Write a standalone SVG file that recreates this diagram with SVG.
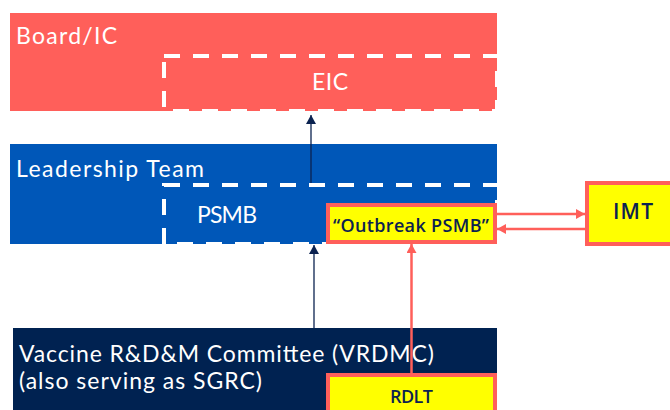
<svg xmlns="http://www.w3.org/2000/svg" width="670" height="410" viewBox="0 0 670 410">
  <defs>
    <style>
      .lbl { font-family: "Lato", "Open Sans", "Liberation Sans", sans-serif; fill: #ffffff; font-size: 23px; }
      .dark { font-family: "Open Sans", "Liberation Sans", sans-serif; fill: #0b2250; font-weight: 600; }
      .dash { fill: none; stroke: #ffffff; stroke-width: 4; stroke-dasharray: 16 13; }
      .ybox { fill: #ffff00; stroke: #ff5f5a; stroke-width: 4; }
      .navyline { stroke: #0b2250; stroke-width: 1.3; fill: none; }
      .redline { stroke: #ff5f5a; stroke-width: 2.5; fill: none; }
    </style>
    <marker id="ahNavy" markerWidth="10" markerHeight="10" refX="9" refY="5" orient="auto" markerUnits="userSpaceOnUse">
      <path d="M0,0 L9,5 L0,10 Z" fill="#0b2250"/>
    </marker>
    <marker id="ahRed" markerWidth="10" markerHeight="10" refX="9" refY="5" orient="auto" markerUnits="userSpaceOnUse">
      <path d="M0,0 L9,5 L0,10 Z" fill="#ff5f5a"/>
    </marker>
  </defs>

  <rect width="670" height="410" fill="#ffffff"/>

  <g id="board">
    <rect x="10" y="13" width="487" height="98" fill="#ff5f5a"/>
    <text class="lbl" x="16" y="44" textLength="101" lengthAdjust="spacing">Board/IC</text>
  </g>

  <g id="eic">
    <rect class="dash" x="164" y="56" width="333" height="55"/>
    <text class="lbl" x="312" y="90" textLength="36" lengthAdjust="spacing">EIC</text>
  </g>

  <g id="leadership">
    <rect x="10" y="144" width="487" height="100" fill="#0057b8"/>
    <text class="lbl" x="16" y="177" textLength="188" lengthAdjust="spacing">Leadership Team</text>
  </g>

  <g id="psmb">
    <rect class="dash" x="164" y="185" width="333" height="59"/>
    <text class="lbl" x="197" y="223" textLength="60" lengthAdjust="spacing">PSMB</text>
  </g>

  <g id="vrdmc">
    <rect x="13" y="328" width="484" height="82" fill="#002251"/>
    <text class="lbl" x="19" y="362" font-size="22" textLength="415" lengthAdjust="spacing">Vaccine R&amp;D&amp;M Committee (VRDMC)</text>
    <text class="lbl" x="19" y="389" font-size="22" textLength="243" lengthAdjust="spacing">(also serving as SGRC)</text>
  </g>

  <g id="outbreak">
    <rect class="ybox" x="328" y="205" width="167" height="37"/>
    <text class="dark" x="333" y="232" font-size="18" textLength="156" lengthAdjust="spacing">“Outbreak PSMB”</text>
  </g>

  <g id="imt">
    <rect class="ybox" x="587" y="183" width="90" height="61"/>
    <text class="dark" x="613" y="219" font-size="21" font-weight="500" textLength="40" lengthAdjust="spacing">IMT</text>
  </g>

  <g id="rdlt">
    <rect class="ybox" x="328" y="375" width="167" height="50"/>
    <text class="dark" x="390" y="403" font-size="18" textLength="43" lengthAdjust="spacing">RDLT</text>
  </g>

  <g id="connectors">
    <line class="navyline" x1="311" y1="183" x2="311" y2="115" marker-end="url(#ahNavy)"/>
    <line class="navyline" x1="314" y1="328" x2="314" y2="245" marker-end="url(#ahNavy)"/>
    <line class="redline" x1="411.5" y1="374" x2="411.5" y2="244" marker-end="url(#ahRed)"/>
    <line class="redline" x1="497" y1="214" x2="585" y2="214" marker-end="url(#ahRed)"/>
    <line class="redline" x1="585" y1="229" x2="497" y2="229" marker-end="url(#ahRed)"/>
  </g>
</svg>
